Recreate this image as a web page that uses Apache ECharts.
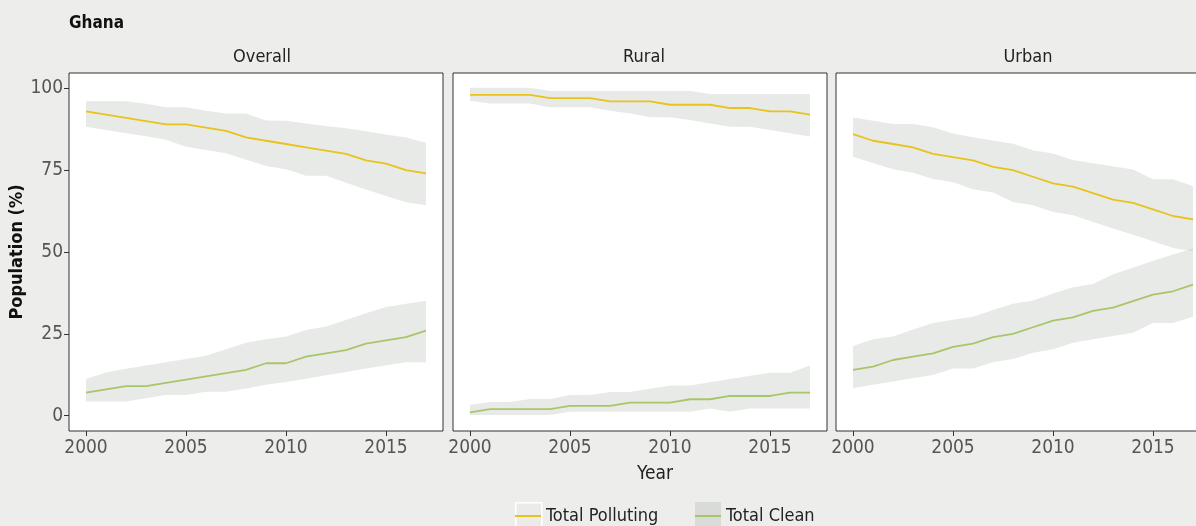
<!DOCTYPE html>
<html lang="en">
<head>
    <meta charset="UTF-8" />
    <title>Ghana</title>
    <script src="https://cdn.jsdelivr.net/npm/echarts@6/dist/echarts.min.js"></script>
    <style>
        html, body { margin: 0; padding: 0; background: #edeeec; }
    </style>
</head>
<body>
    <div style="width: 1196px; height: 526px" id="chart"></div>
    <script>
        const myChart = echarts.init(document.getElementById("chart"));

        // 数据
        const years = [2000, 2001, 2002, 2003, 2004, 2005, 2006, 2007, 2008, 2009, 2010, 2011, 2012, 2013, 2014, 2015, 2016, 2017];
        const panels = ["Overall", "Rural", "Urban"];
        const yTicks = [0, 25, 50, 75, 100];
        const xTicks = [2000, 2005, 2010, 2015];

        // Overall
        const overallPolluting = [93, 92, 91, 90, 89, 89, 88, 87, 85, 84, 83, 82, 81, 80, 78, 77, 75, 74];
        const overallPollutingHi = [96.1, 96.1, 96.1, 95.3, 94.2, 94.2, 93.2, 92.3, 92.3, 90.2, 90.1, 89.3, 88.5, 87.8, 86.9, 85.9, 85.0, 83.4];
        const overallPollutingLo = [88.3, 87.3, 86.3, 85.4, 84.3, 82.2, 81.2, 80.2, 78.2, 76.3, 75.3, 73.3, 73.3, 71.2, 69.1, 67.1, 65.2, 64.3];
        const overallClean = [7, 8, 9, 9, 10, 11, 12, 13, 14, 16, 16, 18, 19, 20, 22, 23, 24, 26];
        const overallCleanHi = [11.2, 13.2, 14.3, 15.3, 16.3, 17.3, 18.3, 20.3, 22.3, 23.3, 24.2, 26.2, 27.2, 29.2, 31.3, 33.2, 34.2, 35.1];
        const overallCleanLo = [4.3, 4.3, 4.3, 5.3, 6.3, 6.3, 7.3, 7.3, 8.3, 9.4, 10.3, 11.3, 12.3, 13.3, 14.4, 15.4, 16.3, 16.3];

        // Rural
        const ruralPolluting = [98, 98, 98, 98, 97, 97, 97, 96, 96, 96, 95, 95, 95, 94, 94, 93, 93, 92];
        const ruralPollutingHi = [100.2, 100.2, 100.2, 100.2, 99.2, 99.2, 99.2, 99.2, 99.2, 99.2, 99.2, 99.2, 98.3, 98.3, 98.3, 98.3, 98.3, 98.3];
        const ruralPollutingLo = [96.2, 95.4, 95.4, 95.4, 94.2, 94.2, 94.2, 93.2, 92.3, 91.2, 91.2, 90.3, 89.3, 88.3, 88.3, 87.3, 86.3, 85.3];
        const ruralClean = [1, 2, 2, 2, 2, 3, 3, 3, 4, 4, 4, 5, 5, 6, 6, 6, 7, 7];
        const ruralCleanHi = [3.3, 4.2, 4.2, 5.1, 5.1, 6.3, 6.3, 7.2, 7.2, 8.2, 9.2, 9.2, 10.2, 11.2, 12.2, 13.1, 13.1, 15.3];
        const ruralCleanLo = [0.2, 0.2, 0.2, 0.2, 0.2, 1.2, 1.2, 1.2, 1.2, 1.2, 1.2, 1.2, 2.2, 1.2, 2.2, 2.2, 2.2, 2.2];

        // Urban
        const urbanPolluting = [86, 84, 83, 82, 80, 79, 78, 76, 75, 73, 71, 70, 68, 66, 65, 63, 61, 60];
        const urbanPollutingHi = [91.1, 90.1, 89.1, 89.1, 88.1, 86.2, 85.1, 84.1, 83.1, 81.1, 80.1, 78.1, 77.1, 76.2, 75.2, 72.2, 72.2, 70.2];
        const urbanPollutingLo = [79.1, 77.2, 75.3, 74.2, 72.3, 71.3, 69.2, 68.2, 65.3, 64.3, 62.2, 61.2, 59.2, 57.2, 55.3, 53.3, 51.2, 50.2];
        const urbanClean = [14, 15, 17, 18, 19, 21, 22, 24, 25, 27, 29, 30, 32, 33, 35, 37, 38, 40];
        const urbanCleanHi = [21.3, 23.3, 24.2, 26.3, 28.3, 29.3, 30.2, 32.3, 34.2, 35.2, 37.3, 39.2, 40.2, 43.2, 45.2, 47.3, 49.2, 51.1];
        const urbanCleanLo = [8.4, 9.4, 10.4, 11.4, 12.4, 14.4, 14.4, 16.3, 17.3, 19.2, 20.3, 22.3, 23.3, 24.3, 25.3, 28.3, 28.3, 30.2];

        const panelData = [
            { pol: overallPolluting, polHi: overallPollutingHi, polLo: overallPollutingLo, cln: overallClean, clnHi: overallCleanHi, clnLo: overallCleanLo },
            { pol: ruralPolluting, polHi: ruralPollutingHi, polLo: ruralPollutingLo, cln: ruralClean, clnHi: ruralCleanHi, clnLo: ruralCleanLo },
            { pol: urbanPolluting, polHi: urbanPollutingHi, polLo: urbanPollutingLo, cln: urbanClean, clnHi: urbanCleanHi, clnLo: urbanCleanLo },
        ];

        const FONT = "'DejaVu Sans Condensed', 'DejaVu Sans', sans-serif";
        const YELLOW = "#e7c31b";
        const GREEN = "#a9c56a";
        const BAND = "rgba(185,190,185,0.33)";
        const gridLefts = [69, 453, 836];

        const pairs = (vals) => years.map((y, i) => [y, vals[i]]);

        // 置信区间带：整条多边形，坐标走库的坐标轴
        function ribbonItem(lo, hi) {
            return function (params, api) {
                if (params.dataIndex !== 0) return;
                const pts = [];
                years.forEach((y, i) => pts.push(api.coord([y, hi[i]])));
                for (let i = years.length - 1; i >= 0; i--) pts.push(api.coord([years[i], lo[i]]));
                return { type: "polygon", shape: { points: pts }, style: { fill: BAND }, silent: true };
            };
        }

        const grid = [], xAxis = [], yAxis = [], series = [], title = [];
        panels.forEach((p, i) => {
            grid.push({
                left: gridLefts[i], top: 73, width: 374, height: 358,
                outerBoundsMode: "none", containLabel: false,
                show: true, backgroundColor: "#fff", borderColor: "#333", borderWidth: 1,
            });
            xAxis.push({
                type: "value", gridIndex: i, min: 1999.15, max: 2017.85,
                splitLine: { show: false },
                axisLine: { show: false, onZero: false },
                axisTick: { show: true, customValues: xTicks, length: 5, lineStyle: { color: "#333" } },
                axisLabel: { customValues: xTicks, formatter: (v) => String(v), fontFamily: FONT, fontSize: 19, color: "#555", margin: 8 },
                name: i === 1 ? "Year" : "",
                nameLocation: "middle", nameGap: 34,
                nameTextStyle: { fontFamily: FONT, fontSize: 19, color: "#222", padding: [0, 0, 0, 30] },
            });
            yAxis.push({
                type: "value", gridIndex: i, min: -4.7, max: 104.7,
                splitLine: { show: false },
                axisLine: { show: false, onZero: false },
                axisTick: { show: i === 0, customValues: yTicks, length: 5, lineStyle: { color: "#333" } },
                axisLabel: { show: i === 0, customValues: yTicks, fontFamily: FONT, fontSize: 19, color: "#555", margin: 6 },
                name: i === 0 ? "Population (%)" : "",
                nameLocation: "middle", nameGap: 38, nameRotate: 90,
                nameTextStyle: { fontFamily: FONT, fontSize: 18, fontWeight: "bold", color: "#111" },
            });
            const d = panelData[i];
            [[d.polLo, d.polHi], [d.clnLo, d.clnHi]].forEach(([lo, hi]) => {
                series.push({
                    type: "custom", xAxisIndex: i, yAxisIndex: i, name: "band",
                    data: years.map((y, k) => [y, lo[k], hi[k]]),
                    encode: { x: 0, y: [1, 2] },
                    renderItem: ribbonItem(lo, hi), silent: true, z: 1,
                });
            });
            series.push({
                type: "line", name: "Total Polluting", xAxisIndex: i, yAxisIndex: i,
                data: pairs(d.pol), symbol: "none", color: YELLOW, lineStyle: { width: 1.8, color: YELLOW }, z: 3,
            });
            series.push({
                type: "line", name: "Total Clean", xAxisIndex: i, yAxisIndex: i,
                data: pairs(d.cln), symbol: "none", color: GREEN, lineStyle: { width: 1.8, color: GREEN }, z: 3,
            });
        });

        const stripCenters = [257, 639, 1023];
        panels.forEach((p, i) => {
            title.push({
                text: p, left: stripCenters[i], top: 43, textAlign: "center",
                textStyle: { fontFamily: FONT, fontSize: 18, fontWeight: "normal", color: "#222" },
            });
        });
        title.push({
            text: "Ghana", left: 64, top: 10,
            textStyle: { fontFamily: FONT, fontSize: 17, fontWeight: "bold", color: "#111" },
        });

        const legendBase = {
            orient: "horizontal", top: 499, itemWidth: 26, itemHeight: 2,
            icon: "rect", selectedMode: false,
            textStyle: { fontFamily: FONT, fontSize: 18, color: "#222", lineHeight: 24 },
        };

        option = {
            backgroundColor: "#edeeec",
            animation: false,
            title: title,
            grid: grid,
            xAxis: xAxis,
            yAxis: yAxis,
            legend: [
                Object.assign({ left: 510, data: ["Total Polluting"] }, legendBase),
                Object.assign({ left: 690, data: ["Total Clean"] }, legendBase),
            ],
            graphic: [
                { type: "rect", left: 515, top: 502, z: -1, shape: { width: 26, height: 28 }, style: { fill: "#ebecea", stroke: "#fff", lineWidth: 1.5 } },
                { type: "rect", left: 695, top: 502, z: -1, shape: { width: 26, height: 28 }, style: { fill: "#d9dbd8" } },
            ],
            series: series,
        };

        myChart.setOption(option);
    </script>
</body>
</html>
